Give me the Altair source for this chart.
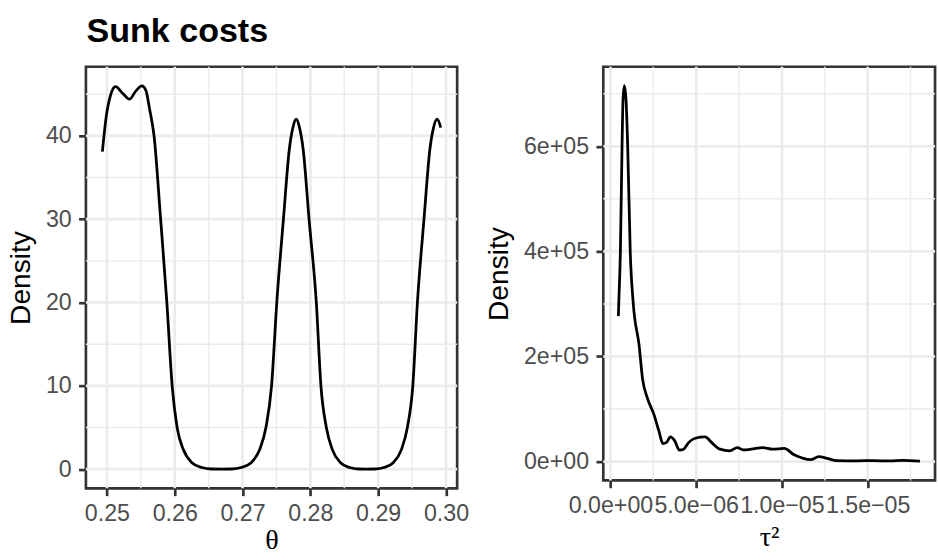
import altair as alt
import pandas as pd

# ---------------- data ----------------
theta_x = [0.24933, 0.24991, 0.25054, 0.25127, 0.25233, 0.25331, 0.25428, 0.25515, 0.25573, 0.25632,
           0.25695, 0.25792, 0.25884, 0.25962, 0.26035, 0.26127, 0.26253, 0.26399, 0.26544, 0.26690,
           0.26836, 0.26981, 0.27127, 0.27253, 0.27345, 0.27428, 0.27505, 0.27603, 0.27690, 0.27743,
           0.27792, 0.27840, 0.27894, 0.27981, 0.28088, 0.28156, 0.28236, 0.28324, 0.28445, 0.28581,
           0.28712, 0.28833, 0.28955, 0.29086, 0.29222, 0.29343, 0.29431, 0.29511, 0.29579, 0.29676,
           0.29763, 0.29817, 0.29870, 0.29923]
theta_density = [38.1, 42.4, 44.9, 45.9, 45.1, 44.4, 45.4, 46.0, 45.5, 43.1,
                 40.0, 30.0, 20.0, 10.0, 5.0, 2.35, 0.78, 0.2, 0.02, 0.0,
                 0.02, 0.2, 0.78, 2.35, 5.0, 10.0, 20.0, 30.0, 38.4, 41.0,
                 42.0, 41.0, 38.4, 30.0, 20.0, 10.0, 5.0, 2.35, 0.78, 0.2,
                 0.02, 0.0, 0.02, 0.2, 0.78, 2.35, 5.0, 10.0, 20.0, 30.0,
                 38.4, 41.0, 42.0, 41.0]

tau2_x = [0.461e-6, 0.484e-6, 0.577e-6, 0.675e-6, 0.732e-6, 0.807e-6, 0.905e-6, 1.003e-6, 1.153e-6, 1.326e-6,
          1.672e-6, 1.868e-6, 2.157e-6, 2.537e-6, 2.826e-6, 3.056e-6, 3.253e-6, 3.500e-6, 3.749e-6, 4.020e-6,
          4.268e-6, 4.556e-6, 4.942e-6, 5.519e-6, 5.905e-6, 6.384e-6, 6.961e-6, 7.405e-6, 7.728e-6, 8.212e-6,
          8.881e-6, 9.458e-6, 10.133e-6, 10.709e-6, 11.188e-6, 11.672e-6, 12.151e-6, 12.630e-6, 13.206e-6, 14.360e-6,
          15.323e-6, 16.286e-6, 17.053e-6, 18.051e-6]
tau2_density = [276800, 301800, 398700, 601700, 689000, 715500, 689000, 601700, 398700, 301800,
                220600, 158000, 120500, 89400, 58000, 34400, 36200, 46900, 39400, 21900,
                23700, 36200, 44400, 46900, 36200, 23700, 20600, 26800, 22500, 23700,
                26800, 23700, 25000, 13100, 6900, 3700, 9400, 6200, 1900, 1500,
                1900, 1200, 2200, 800]

# ticks / labels
theta_ticks = [0.25, 0.26, 0.27, 0.28, 0.29, 0.30]
theta_tick_labels = ["0.25", "0.26", "0.27", "0.28", "0.29", "0.30"]
theta_minor = [0.255, 0.265, 0.275, 0.285, 0.295]
theta_dens_ticks = [0, 10, 20, 30, 40]
theta_dens_labels = ["0", "10", "20", "30", "40"]
theta_dens_minor = [5, 15, 25, 35, 45]

tau2_ticks = [0.0, 5e-06, 1e-05, 1.5e-05]
tau2_tick_labels = ["0.0e+00", "5.0e\u221206", "1.0e\u221205", "1.5e\u221205"]
tau2_minor = [2.5e-06, 7.5e-06, 1.25e-05, 1.75e-05]
tau2_dens_ticks = [0, 200000, 400000, 600000]
tau2_dens_labels = ["0e+00", "2e+05", "4e+05", "6e+05"]
tau2_dens_minor = [100000, 300000, 500000, 700000]

SANS = "Liberation Sans"
SERIF = "Liberation Serif"
GRID = "#EBEBEB"
INK = "#333333"


def lab_expr(vals, labs):
    tol = abs(vals[1] - vals[0]) * 1e-3
    expr = "''"
    for v, l in reversed(list(zip(vals, labs))):
        expr = f"abs(datum.value - ({v!r})) < {tol!r} ? '{l}' : " + expr
    return expr


def panel(xv, yv, xdom, ydom, xmaj, xlab, xmin, ymaj, ylab, ymin, xtitle, w, h, xtp):
    xs = alt.Scale(domain=xdom, nice=False, zero=False)
    ys = alt.Scale(domain=ydom, nice=False, zero=False)
    xaxis = alt.Axis(values=xmaj, labelExpr=lab_expr(xmaj, xlab), title=xtitle,
                     titleFont=SERIF, titlePadding=xtp, labelFlush=False,
                     labelOverlap=False, labelBound=False, grid=False, labelPadding=6.5)
    yaxis = alt.Axis(values=ymaj, labelExpr=lab_expr(ymaj, ylab), title="Density",
                     titlePadding=10, labelFlush=False, labelOverlap=False, grid=False,
                     labelPadding=7.5)
    xenc = alt.X("x:Q", scale=xs, axis=xaxis)
    yenc = alt.Y("y:Q", scale=ys, axis=yaxis)
    vmin = alt.Chart(pd.DataFrame({"x": xmin})).mark_rule(color=GRID, strokeWidth=1.4).encode(x=xenc)
    vmaj = alt.Chart(pd.DataFrame({"x": xmaj})).mark_rule(color=GRID, strokeWidth=2.7).encode(x=xenc)
    hmin = alt.Chart(pd.DataFrame({"y": ymin})).mark_rule(color=GRID, strokeWidth=1.4).encode(y=yenc)
    hmaj = alt.Chart(pd.DataFrame({"y": ymaj})).mark_rule(color=GRID, strokeWidth=2.7).encode(y=yenc)
    line = alt.Chart(pd.DataFrame({"x": xv, "y": yv})).mark_line(
        color="black", strokeWidth=2.8, interpolate="monotone").encode(x=xenc, y=yenc)
    return alt.layer(vmin, vmaj, hmin, hmaj, line).properties(width=w, height=h)


left = panel(theta_x, theta_density, [0.2469, 0.30165], [-2.3, 48.3],
             theta_ticks, theta_tick_labels, theta_minor,
             theta_dens_ticks, theta_dens_labels, theta_dens_minor,
             "\u03b8", 376, 427, 1)
right = panel(tau2_x, tau2_density, [-0.42e-6, 18.93e-6], [-35800, 751300],
              tau2_ticks, tau2_tick_labels, tau2_minor,
              tau2_dens_ticks, tau2_dens_labels, tau2_dens_minor,
              "\u03c4\u00b2", 336, 419, 6)

chart = alt.hconcat(left, right, spacing=13).properties(
    title=alt.TitleParams("Sunk costs", anchor="start", font=SANS, fontSize=34.5,
                          fontWeight="bold", color="black", dx=82, offset=15),
    padding={"left": 5, "top": 10, "right": 0, "bottom": 0},
    background="white",
).configure_view(stroke=INK, strokeWidth=2.7).configure_axis(
    domain=False, ticks=True, tickColor=INK, tickWidth=2.7, tickSize=7.4,
    labelColor="#4D4D4D", labelFont=SANS, labelFontSize=23.5,
    titleFont=SANS, titleFontSize=28.5, titleColor="black", titleFontWeight="normal",
)

chart.save("out.html", embed_options={"renderer": "svg", "actions": False})
